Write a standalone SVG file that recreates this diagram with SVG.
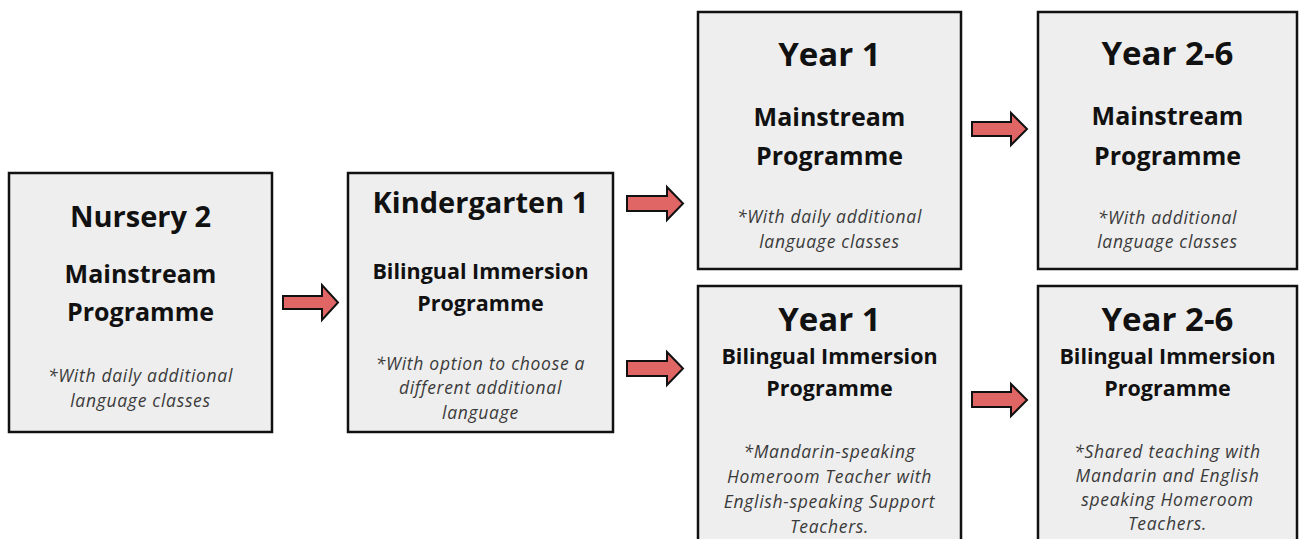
<svg xmlns="http://www.w3.org/2000/svg" width="1300" height="539" viewBox="0 0 1300 539">
<defs>
<style>
.box{fill:#eeeeee;stroke:#111;stroke-width:2.5}
.arr{fill:#e06666;stroke:#111;stroke-width:2;stroke-linejoin:miter}
text{font-family:"Open Sans","Liberation Sans",sans-serif;text-anchor:middle;fill:#111}
.t{font-weight:bold;font-size:29px}
.ty{font-weight:bold;font-size:33px}
.s{font-weight:bold;font-size:25px}
.b{font-weight:bold;font-size:21.5px}
.i{font-style:italic;font-size:17.5px;letter-spacing:0.7px;fill:#3a3a3a}
</style>
</defs>
<rect width="1300" height="539" fill="#ffffff"/>
<g id="nursery2">
<rect class="box" x="9" y="173" width="263" height="259"/>
<text class="t" x="140.5" y="227">Nursery 2</text>
<text class="s" x="140.5" y="283">Mainstream</text>
<text class="s" x="140.5" y="321">Programme</text>
<text class="i" x="140.5" y="382">*With daily additional</text>
<text class="i" x="140.5" y="407">language classes</text>
</g>
<g id="kindergarten1">
<rect class="box" x="348" y="173" width="265" height="259"/>
<text class="t" x="480.5" y="213">Kindergarten 1</text>
<text class="b" x="480.5" y="279">Bilingual Immersion</text>
<text class="b" x="480.5" y="311">Programme</text>
<text class="i" x="480.5" y="370">*With option to choose a</text>
<text class="i" x="480.5" y="394">different additional</text>
<text class="i" x="480.5" y="419">language</text>
</g>
<g id="year1-mainstream">
<rect class="box" x="698" y="12" width="263" height="257"/>
<text class="ty" x="829.5" y="66">Year 1</text>
<text class="s" x="829.5" y="126">Mainstream</text>
<text class="s" x="829.5" y="165">Programme</text>
<text class="i" x="829.5" y="223">*With daily additional</text>
<text class="i" x="829.5" y="248">language classes</text>
</g>
<g id="year26-mainstream">
<rect class="box" x="1038" y="12" width="259" height="257"/>
<text class="ty" x="1167.5" y="65">Year 2-6</text>
<text class="s" x="1167.5" y="125">Mainstream</text>
<text class="s" x="1167.5" y="165">Programme</text>
<text class="i" x="1167.5" y="224">*With additional</text>
<text class="i" x="1167.5" y="248">language classes</text>
</g>
<g id="year1-bilingual">
<rect class="box" x="698" y="286" width="263" height="270"/>
<text class="ty" x="829.5" y="331">Year 1</text>
<text class="b" x="829.5" y="364">Bilingual Immersion</text>
<text class="b" x="829.5" y="396">Programme</text>
<text class="i" x="829.5" y="458">*Mandarin-speaking</text>
<text class="i" x="829.5" y="483">Homeroom Teacher with</text>
<text class="i" x="829.5" y="508">English-speaking Support</text>
<text class="i" x="829.5" y="533">Teachers.</text>
</g>
<g id="year26-bilingual">
<rect class="box" x="1038" y="286" width="259" height="270"/>
<text class="ty" x="1167.5" y="331">Year 2-6</text>
<text class="b" x="1167.5" y="364">Bilingual Immersion</text>
<text class="b" x="1167.5" y="396">Programme</text>
<text class="i" x="1167.5" y="458">*Shared teaching with</text>
<text class="i" x="1167.5" y="482">Mandarin and English</text>
<text class="i" x="1167.5" y="506">speaking Homeroom</text>
<text class="i" x="1167.5" y="530">Teachers.</text>
</g>
<g id="connectors">
<polygon class="arr" points="283,296 322,296 322,285 338,302.5 322,320 322,309 283,309"/>
<polygon class="arr" points="627,196 667,196 667,187 683,203.5 667,220 667,211 627,211"/>
<polygon class="arr" points="627,361 667,361 667,352 683,368.5 667,385 667,376 627,376"/>
<polygon class="arr" points="972,122 1011,122 1011,113 1027,129 1011,145 1011,136 972,136"/>
<polygon class="arr" points="972,392 1011,392 1011,384 1027,400 1011,416 1011,407 972,407"/>
</g>
</svg>
